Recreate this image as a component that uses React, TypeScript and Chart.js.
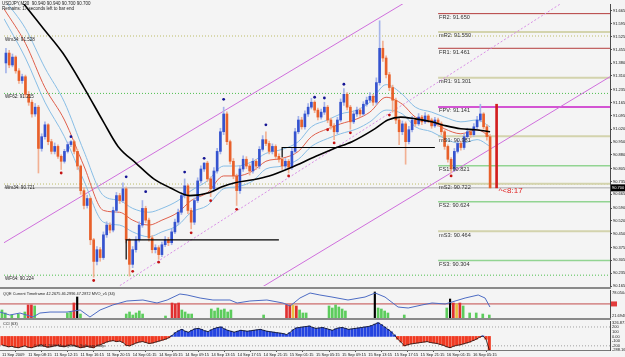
import React, { useEffect, useRef } from "react";
import { Chart, registerables } from "chart.js";
Chart.register(...registerables);

// ---------------- data ----------------
const mainTitle = "USDJPY,M30  90.940 90.940 90.700 90.700";
const remainText = "Remains: 17 seconds left to bar end";
const countdownText = "^<8:17";
const qqeTitle = "QQE Current Timeframe 42.2675 46.2996 47.2872 MVO_v5 (34)";
const cciTitle = "CCI (63)";
const copyrightText = "\u00a9 2001-2009 MetaQuotes Software Corp.";

const priceTicks = [91.665, 91.595, 91.525, 91.455, 91.38, 91.31, 91.235, 91.165, 91.095, 91.02, 90.95, 90.88, 90.805, 90.735, 90.665, 90.59, 90.52, 90.45, 90.375, 90.305, 90.235, 90.165];
const currentPrice = 90.7;

const timeTickIdx = [0, 8, 16, 24, 32, 40, 48, 56, 64, 72, 80, 88, 96, 104, 112, 120, 128, 136, 144];
const timeLabels = ["11 Sep 2009", "11 Sep 08:15", "11 Sep 12:15", "11 Sep 16:15", "11 Sep 20:15", "14 Sep 01:15", "14 Sep 05:15", "14 Sep 09:15", "14 Sep 13:15", "14 Sep 17:15", "14 Sep 21:15", "15 Sep 01:15", "15 Sep 05:15", "15 Sep 09:15", "15 Sep 13:15", "15 Sep 17:15", "15 Sep 21:15", "16 Sep 01:15", "16 Sep 05:15"];

const opens = [
  91.381, 91.435, 91.370, 91.413, 91.338, 91.285, 91.306, 91.210, 91.167, 91.103,
  91.140, 90.915, 90.979, 91.044, 90.952, 90.899, 90.926, 90.872, 90.845, 90.899,
  90.936, 90.952, 90.899, 90.819, 90.685, 90.604, 90.642, 90.417, 90.299, 90.363,
  90.320, 90.444, 90.497, 90.470, 90.577, 90.658, 90.631, 90.695, 90.417, 90.283,
  90.363, 90.417, 90.497, 90.588, 90.524, 90.427, 90.363, 90.374, 90.336, 90.390,
  90.417, 90.401, 90.460, 90.513, 90.567, 90.658, 90.711, 90.577, 90.513, 90.631,
  90.738, 90.803, 90.835, 90.749, 90.695, 90.792, 90.899, 91.006, 91.103, 90.952,
  90.845, 90.765, 90.685, 90.803, 90.856, 90.819, 90.792, 90.845, 90.819, 90.910,
  90.963, 90.942, 90.899, 90.926, 90.872, 90.856, 90.819, 90.845, 90.813, 90.899,
  91.006, 91.070, 91.033, 91.103, 91.140, 91.167, 91.124, 91.086, 91.113, 91.140,
  91.070, 91.038, 91.006, 91.070, 91.167, 91.210, 91.140, 91.060, 91.103, 91.124,
  91.103, 91.156, 91.178, 91.199, 91.167, 91.274, 91.461, 91.408, 91.317, 91.247,
  91.178, 91.070, 91.006, 91.049, 90.952, 91.017, 91.070, 91.049, 91.086, 91.060,
  91.092, 91.070, 91.038, 91.070, 91.049, 91.006, 90.926, 90.856, 90.803, 90.899,
  90.942, 90.920, 90.979, 91.006, 90.990, 91.033, 91.070, 91.103, 91.033, 90.979,
];
const highs = [
  91.461, 91.450, 91.430, 91.420, 91.350, 91.320, 91.315, 91.225, 91.180, 91.160,
  91.150, 90.995, 91.060, 91.050, 90.965, 90.945, 90.935, 90.880, 90.910, 90.950,
  90.958, 90.960, 90.910, 90.825, 90.700, 90.660, 90.650, 90.425, 90.380, 90.375,
  90.460, 90.515, 90.510, 90.595, 90.675, 90.670, 90.728, 90.705, 90.425, 90.380,
  90.435, 90.515, 90.631, 90.600, 90.535, 90.440, 90.390, 90.385, 90.405, 90.435,
  90.430, 90.475, 90.530, 90.585, 90.675, 90.749, 90.720, 90.590, 90.645, 90.755,
  90.820, 90.838, 90.845, 90.760, 90.810, 90.915, 91.025, 91.140, 91.115, 90.960,
  90.860, 90.775, 90.820, 90.875, 90.870, 90.830, 90.860, 90.855, 90.925, 90.985,
  91.006, 90.955, 90.940, 90.935, 90.885, 90.865, 90.860, 90.855, 90.915, 91.025,
  91.090, 91.085, 91.120, 91.160, 91.188, 91.175, 91.135, 91.130, 91.167, 91.150,
  91.080, 91.050, 91.085, 91.185, 91.242, 91.220, 91.150, 91.120, 91.140, 91.135,
  91.170, 91.195, 91.220, 91.210, 91.300, 91.611, 91.500, 91.420, 91.330, 91.260,
  91.190, 91.080, 91.065, 91.060, 91.035, 91.090, 91.085, 91.105, 91.095, 91.110,
  91.100, 91.080, 91.085, 91.080, 91.060, 91.015, 90.935, 90.865, 90.915, 90.960,
  90.955, 90.995, 91.025, 91.015, 91.050, 91.090, 91.156, 91.110, 91.045, 90.990,
];
const lows = [
  91.327, 91.355, 91.360, 91.325, 91.270, 91.270, 91.195, 91.150, 91.085, 91.090,
  90.781, 90.900, 90.965, 90.935, 90.885, 90.885, 90.860, 90.800, 90.835, 90.890,
  90.925, 90.885, 90.800, 90.665, 90.585, 90.590, 90.390, 90.213, 90.280, 90.300,
  90.310, 90.430, 90.455, 90.460, 90.565, 90.615, 90.620, 90.400, 90.219, 90.265,
  90.350, 90.405, 90.485, 90.510, 90.410, 90.345, 90.345, 90.310, 90.325, 90.380,
  90.385, 90.390, 90.450, 90.500, 90.555, 90.645, 90.560, 90.476, 90.500, 90.620,
  90.725, 90.790, 90.735, 90.652, 90.680, 90.780, 90.885, 90.990, 90.935, 90.830,
  90.750, 90.604, 90.670, 90.790, 90.805, 90.770, 90.780, 90.800, 90.805, 90.900,
  90.930, 90.885, 90.885, 90.860, 90.840, 90.800, 90.805, 90.781, 90.800, 90.890,
  90.995, 91.020, 91.020, 91.090, 91.130, 91.110, 91.070, 91.075, 91.100, 91.055,
  91.020, 90.963, 90.995, 91.060, 91.150, 91.125, 91.020, 91.050, 91.090, 91.090,
  91.095, 91.145, 91.165, 91.150, 91.155, 91.260, 91.390, 91.300, 91.230, 91.113,
  91.050, 90.936, 90.990, 90.829, 90.940, 91.005, 91.035, 91.040, 91.045, 91.050,
  91.055, 91.025, 91.030, 91.035, 90.990, 90.910, 90.840, 90.781, 90.790, 90.890,
  90.905, 90.910, 90.970, 90.975, 90.980, 91.020, 91.060, 91.020, 90.960, 90.700,
];
const closes = [
  91.435, 91.370, 91.413, 91.338, 91.285, 91.306, 91.210, 91.167, 91.103, 91.140,
  90.915, 90.979, 91.044, 90.952, 90.899, 90.926, 90.872, 90.845, 90.899, 90.936,
  90.952, 90.899, 90.819, 90.685, 90.604, 90.642, 90.417, 90.299, 90.363, 90.320,
  90.444, 90.497, 90.470, 90.577, 90.658, 90.631, 90.695, 90.417, 90.283, 90.363,
  90.417, 90.497, 90.588, 90.524, 90.427, 90.363, 90.374, 90.336, 90.390, 90.417,
  90.401, 90.460, 90.513, 90.567, 90.658, 90.711, 90.577, 90.513, 90.631, 90.738,
  90.803, 90.835, 90.749, 90.695, 90.792, 90.899, 91.006, 91.103, 90.952, 90.845,
  90.765, 90.685, 90.803, 90.856, 90.819, 90.792, 90.845, 90.819, 90.910, 90.963,
  90.942, 90.899, 90.926, 90.872, 90.856, 90.819, 90.845, 90.813, 90.899, 91.006,
  91.070, 91.033, 91.103, 91.140, 91.167, 91.124, 91.086, 91.113, 91.140, 91.070,
  91.038, 91.006, 91.070, 91.167, 91.210, 91.140, 91.060, 91.103, 91.124, 91.103,
  91.156, 91.178, 91.199, 91.167, 91.274, 91.461, 91.408, 91.317, 91.247, 91.178,
  91.070, 91.006, 91.049, 90.952, 91.017, 91.070, 91.049, 91.086, 91.060, 91.092,
  91.070, 91.038, 91.070, 91.049, 91.006, 90.926, 90.856, 90.803, 90.899, 90.942,
  90.920, 90.979, 91.006, 90.990, 91.033, 91.070, 91.103, 91.033, 90.979, 90.700,
];
// range bar of the running bar
const lastBarIdx = 151;
const lastBarHigh = 91.156;
const lastBarLow = 90.7;

// moving-average envelope (sampled)
const maIdx = [-0.6, 6, 12, 18, 24, 30, 35, 39, 44, 48, 53, 57, 62, 67, 71, 76, 80, 85, 90, 94, 99, 103, 108, 112, 117, 122, 126, 131, 135, 140, 145, 149];
const maUpper = [91.729, 91.569, 91.354, 91.167, 90.899, 90.658, 90.631, 90.588, 90.567, 90.588, 90.631, 90.685, 90.738, 90.819, 90.819, 90.845, 90.888, 90.910, 90.952, 91.033, 91.070, 91.103, 91.124, 91.167, 91.263, 91.210, 91.140, 91.113, 91.086, 91.060, 91.070, 91.033];
const maMid = [91.676, 91.488, 91.247, 91.070, 90.819, 90.577, 90.567, 90.524, 90.497, 90.524, 90.567, 90.631, 90.674, 90.765, 90.765, 90.792, 90.845, 90.861, 90.899, 90.979, 91.022, 91.049, 91.076, 91.113, 91.194, 91.156, 91.086, 91.060, 91.022, 90.995, 91.017, 90.979];
const maLower = [91.622, 91.408, 91.167, 90.979, 90.738, 90.513, 90.497, 90.460, 90.433, 90.460, 90.497, 90.567, 90.604, 90.695, 90.706, 90.738, 90.803, 90.819, 90.856, 90.926, 90.969, 90.995, 91.022, 91.060, 91.124, 91.103, 91.033, 91.006, 90.969, 90.942, 90.963, 90.926];

// slow black moving average (sampled)
const slowIdx = [2, 5.5, 11.5, 17.5, 24, 30, 34.5, 40, 45.5, 50.5, 56.5, 62.5, 66.5, 70.5, 76, 81, 88, 94, 101, 106.5, 113.5, 117.5, 121.5, 126, 131, 135.5, 140, 144.5, 149];
const slowMa = [91.783, 91.703, 91.569, 91.435, 91.247, 91.060, 90.926, 90.835, 90.749, 90.701, 90.658, 90.674, 90.706, 90.728, 90.744, 90.765, 90.813, 90.861, 90.915, 90.952, 91.022, 91.070, 91.086, 91.076, 91.060, 91.038, 91.022, 91.017, 91.006];

// trend channel (bar index, price)
const channelUpper = [[-0.6, 90.401], [130, 91.787]];
const channelLower = [[75, 90.118], [185.9, 91.306]];
const channelDotted = [[27.8, 90.085], [170.6, 91.7025]];

// horizontal black support/resistance segments
const segStartIdx = [37, 85];
const segEndIdx = [84, 132];
const segLevel = [90.417, 90.92];
const segTickEnd = [90.31, 90.867];

// fractals
const fractalUpIdx = [20, 37, 43, 55, 61, 67, 80, 95, 98, 104];
const fractalUpVal = [90.979, 90.76, 90.679, 90.786, 90.861, 91.183, 91.044, 91.194, 91.19, 91.265];
const fractalDnIdx = [17, 27, 39, 47, 57, 63, 71, 87, 99, 101, 106, 118, 137];
const fractalDnVal = [90.781, 90.195, 90.245, 90.295, 90.455, 90.63, 90.583, 90.765, 91.017, 90.945, 91.0, 91.097, 90.765];

// daily pivots
const pivotStart = 133;
const pivotNames = ["FR2", "mR2", "FR1", "mR1", "FPV", "mS1", "FS1", "mS2", "FS2", "mS3", "FS3"];
const pivotValues = [91.65, 91.55, 91.461, 91.301, 91.141, 90.981, 90.821, 90.722, 90.624, 90.464, 90.304];
// weekly levels
const weeklyNames = ["Wm34", "WF62", "Wm34", "WF64"];
const weeklyValues = [91.528, 91.215, 90.721, 90.224];

// QQE panel
const qqeMin = 21.6948;
const qqeMax = 78.0504;
const qqeLevel = 50;
const qqeLineIdx = [-0.6, 2.4, 5.5, 9.5, 11.6, 14.7, 19.9, 23.9, 26.9, 30, 33.9, 38.2, 43.1, 47.4, 50.5, 54.4, 56.6, 60.6, 64.5, 69.7, 71.9, 75.8, 81, 85.9, 88.1, 91.1, 94.2, 97.2, 100.9, 105.8, 111, 114.1, 117.1, 121.1, 124.2, 128.4, 131.5, 135.5, 137.6, 141.6, 145.6, 147.7, 149.2];
const qqeLineVal = [33.7, 27.7, 31.7, 23.7, 31.7, 33.7, 33.7, 37.8, 23.7, 37.8, 47.9, 55.9, 57.9, 51.9, 57.9, 70.0, 68.0, 61.9, 57.9, 57.9, 51.9, 55.9, 57.9, 51.9, 45.8, 61.9, 72.0, 68.0, 63.9, 57.9, 63.9, 72.0, 63.9, 43.8, 41.8, 47.9, 51.9, 49.9, 53.9, 61.9, 68.0, 61.9, 43.8];
const qqeGreenIdx = [0, 1, 3, 5, 7, 10, 20, 21, 24, 38, 39, 40, 41, 42, 43, 50, 55, 56, 57, 58, 64, 65, 66, 67, 68, 69, 70, 80, 91, 92, 93, 100, 101, 102, 103, 104, 105, 115, 116, 117, 118, 123, 136, 141, 143, 145, 147, 149];
const qqeGreenVal = [37.8, 31.8, 27.7, 29.7, 33.8, 45.9, 31.8, 33.8, 29.7, 29.7, 33.8, 27.7, 31.8, 35.8, 29.7, 25.7, 37.8, 33.8, 29.7, 29.7, 39.8, 35.8, 41.8, 37.8, 39.8, 33.8, 37.8, 27.7, 37.8, 31.8, 31.8, 45.9, 41.8, 47.9, 43.8, 39.8, 35.8, 41.8, 39.8, 35.8, 31.8, 27.7, 41.8, 45.9, 31.8, 31.8, 29.7, 27.7];
const qqeRedIdx = [8, 9, 22, 52, 53, 54, 87, 88, 90, 138, 140];
const qqeRedVal = [47.9, 47.9, 51.9, 51.9, 49.9, 51.9, 47.9, 47.9, 45.9, 51.9, 51.9];
const qqeYellowIdx = [89, 139];
const qqeYellowVal = [47.9, 49.9];
const qqeBlackIdx = [23, 114, 137];
const qqeBlackVal = [64.0, 74.0, 59.9];

// CCI panel
const cciMin = -288.161;
const cciMax = 326.871;
const cciAxisVals = [326.871, 200, 100, 0, -100, -200, -288.161];
const cciAxisText = ["326.871", "200", "100", "0.00", "-100", "-200", "-288.161"];
const cciDotLevels = [200, -200];
const cci = [
  -180, -200, -220, -210, -230, -240, -220, -200, -230, -240, -220,
  -200, -180, -210, -230, -220, -200, -190, -210, -220, -200,
  -180, -190, -220, -240, -230, -210, -230, -240, -200, -180,
  -150, -120, -100, -90, -110, -100, -130, -190, -200, -170,
  -140, -120, -110, -130, -150, -140, -120, -100, -80, -60,
  -30, 20, 80, 120, 150, 110, 90, 130, 160, 170,
  150, 120, 100, 140, 170, 190, 200, 160, 130, 110,
  90, 110, 130, 120, 110, 120, 130, 140, 150, 130,
  110, 100, 90, 80, 70, 60, 40, 80, 140, 180,
  190, 200, 210, 220, 190, 170, 180, 190, 170, 150,
  130, 160, 180, 190, 170, 150, 160, 170, 180, 190,
  200, 210, 230, 260, 290, 250, 200, 150, 100, 30,
  -60, -120, -200, -180, -160, -150, -140, -130, -120, -110,
  -130, -140, -150, -170, -190, -220, -240, -210, -190, -180,
  -160, -140, -120, -90, -60, -20, 10, -60, -290,
];

// ---------------- layout constants ----------------
const X_MIN = -0.6;
const X_MAX = 185.9;
const PRICE_MIN = 90.165;
const PRICE_MAX = 91.7025;
const FONT = '"Liberation Sans", Arial, sans-serif';
const BG = "#f4f4f4";

const pt = (x: number, y: number) => ({ x, y });
const lineDs = (data: any[], color: string, width: number, order: number, extra: any = {}) => ({
  type: "line",
  data,
  borderColor: color,
  borderWidth: width,
  pointRadius: 0,
  fill: false,
  order,
  ...extra,
});

const rightAxis = (min: number, max: number, extra: any = {}) => ({
  type: "linear",
  position: "right",
  min,
  max,
  afterFit: (s: any) => {
    s.width = 15;
    s.paddingTop = 0;
    s.paddingBottom = 0;
  },
  ticks: { display: false },
  grid: { display: false },
  border: { color: "#4a4a4a" },
  ...extra,
});

const hiddenX = { type: "linear", min: X_MIN, max: X_MAX, display: false, offset: false };

const bgPlugin = {
  id: "bg",
  beforeDraw(chart: any) {
    const { ctx, width, height } = chart;
    ctx.save();
    ctx.fillStyle = BG;
    ctx.fillRect(0, 0, width, height);
    ctx.restore();
  },
};

function mainDatasets() {
  const ds: any[] = [];
  weeklyValues.forEach((v, k) => {
    const isF = weeklyNames[k].startsWith("WF");
    ds.push(lineDs([pt(X_MIN, v), pt(X_MAX, v)], isF ? "#4fbf4f" : "#bcbc68", 1, 30, { borderDash: [1, 2] }));
  });
  ds.push(lineDs([pt(X_MIN, currentPrice), pt(X_MAX, currentPrice)], "#aaaaaa", 1, 29));
  pivotValues.forEach((v, k) => {
    const n = pivotNames[k];
    let c = "#d3d3ad";
    let w = 2;
    if (n.startsWith("FR")) { c = "#b43c3c"; w = 1; }
    else if (n.startsWith("FS")) { c = "#92d492"; w = 1.5; }
    else if (n === "FPV") { c = "#c81fc8"; w = 1.5; }
    ds.push(lineDs([pt(pivotStart, v), pt(X_MAX, v)], c, w, 28));
  });
  ds.push(lineDs(channelUpper.map(([a, b]) => pt(a, b)), "#cf6fdc", 1, 27));
  ds.push(lineDs(channelLower.map(([a, b]) => pt(a, b)), "#cf6fdc", 1, 27));
  ds.push(lineDs(channelDotted.map(([a, b]) => pt(a, b)), "#d98fe6", 1, 27, { borderDash: [2, 2] }));
  ds.push(lineDs(maIdx.map((x, k) => pt(x, maUpper[k])), "#88bee6", 1, 20, { cubicInterpolationMode: "monotone" }));
  ds.push(lineDs(maIdx.map((x, k) => pt(x, maLower[k])), "#88bee6", 1, 20, { cubicInterpolationMode: "monotone" }));
  ds.push(lineDs(maIdx.map((x, k) => pt(x, maMid[k])), "#e0604c", 1, 19, { cubicInterpolationMode: "monotone" }));
  ds.push({
    type: "bar",
    data: closes.map((c, i) => ({ x: i, y: [lows[i], highs[i]] })),
    backgroundColor: closes.map((c, i) => (c >= opens[i] ? "#a4b3ea" : "#f2b093")),
    barThickness: 1,
    grouped: false,
    order: 15,
  });
  ds.push({
    type: "bar",
    data: closes.map((c, i) => ({ x: i, y: [opens[i], c] })),
    backgroundColor: closes.map((c, i) => (c >= opens[i] ? "#3553cf" : "#e8602a")),
    barThickness: 2,
    grouped: false,
    order: 14,
  });
  ds.push(lineDs(slowIdx.map((x, k) => pt(x, slowMa[k])), "#000000", 1.6, 10, { cubicInterpolationMode: "monotone" }));
  segLevel.forEach((v, k) => {
    ds.push(lineDs([pt(segStartIdx[k], segTickEnd[k]), pt(segStartIdx[k], v), pt(segEndIdx[k], v)], "#000000", 1.2, 9));
  });
  ds.push({
    type: "line",
    data: fractalUpIdx.map((x, k) => pt(x, fractalUpVal[k])),
    showLine: false,
    pointRadius: 1.4,
    pointBackgroundColor: "#141494",
    pointBorderWidth: 0,
    order: 5,
  });
  ds.push({
    type: "line",
    data: fractalDnIdx.map((x, k) => pt(x, fractalDnVal[k])),
    showLine: false,
    pointRadius: 1.4,
    pointBackgroundColor: "#c41414",
    pointBorderWidth: 0,
    order: 5,
  });
  ds.push({
    type: "bar",
    data: [{ x: lastBarIdx, y: [lastBarLow, lastBarHigh] }],
    backgroundColor: "#d21e1e",
    barThickness: 2,
    grouped: false,
    order: 2,
  });
  return ds;
}

const mainDecor = {
  id: "mainDecor",
  afterDatasetsDraw(chart: any) {
    const { ctx } = chart;
    const xs = chart.scales.x;
    const ys = chart.scales.y;
    ctx.save();
    ctx.fillStyle = "#222";
    ctx.textBaseline = "middle";
    ctx.font = `4.5px ${FONT}`;
    ctx.fillText(mainTitle, 2, 4);
    ctx.fillText(remainText, 2, 9);
    ctx.textBaseline = "top";
    ctx.font = `4.6px ${FONT}`;
    weeklyValues.forEach((v, k) => ctx.fillText(`${weeklyNames[k]}: ${v.toFixed(3)}`, 5, ys.getPixelForValue(v) + 1));
    ctx.font = `5.6px ${FONT}`;
    ctx.fillStyle = "#333";
    pivotValues.forEach((v, k) =>
      ctx.fillText(`${pivotNames[k]}: ${v.toFixed(3)}`, xs.getPixelForValue(pivotStart) + 1, ys.getPixelForValue(v) + 1)
    );
    ctx.fillStyle = "#e02424";
    ctx.font = `8px ${FONT}`;
    ctx.fillText(countdownText, xs.getPixelForValue(lastBarIdx) + 2, ys.getPixelForValue(currentPrice) - 1);
    ctx.restore();
  },
  afterDraw(chart: any) {
    const { ctx } = chart;
    const ys = chart.scales.y;
    const py = ys.getPixelForValue(currentPrice);
    ctx.save();
    ctx.fillStyle = "#000";
    ctx.fillRect(ys.left + 1, py - 3.5, 14, 7);
    ctx.fillStyle = "#fff";
    ctx.font = `4px ${FONT}`;
    ctx.textBaseline = "middle";
    ctx.fillText(currentPrice.toFixed(3), ys.left + 2, py);
    ctx.restore();
  },
};

const qqeDecor = {
  id: "qqeDecor",
  afterDraw(chart: any) {
    const { ctx, chartArea } = chart;
    const ys = chart.scales.y;
    ctx.save();
    ctx.fillStyle = "#222";
    ctx.font = `3.9px ${FONT}`;
    ctx.textBaseline = "middle";
    ctx.fillText(qqeTitle, 3, chartArea.top + 3.5);
    ctx.font = `4px ${FONT}`;
    ctx.fillText(qqeMax.toFixed(4), ys.left + 2, chartArea.top + 2.5);
    ctx.fillText(qqeMin.toFixed(4), ys.left + 2, chartArea.bottom - 2);
    ctx.fillStyle = "#e23b3b";
    ctx.fillRect(ys.left + 1, ys.getPixelForValue(qqeLevel) - 2.5, 6, 5);
    ctx.restore();
  },
};

const cciDecor = {
  id: "cciDecor",
  afterDraw(chart: any) {
    const { ctx, chartArea } = chart;
    const ys = chart.scales.y;
    ctx.save();
    ctx.fillStyle = "#222";
    ctx.font = `3.9px ${FONT}`;
    ctx.textBaseline = "middle";
    ctx.fillText(cciTitle, 3, chartArea.top + 3);
    ctx.fillText(copyrightText, 34, chartArea.bottom - 4);
    ctx.font = `4px ${FONT}`;
    cciAxisVals.forEach((v, k) => {
      let py = ys.getPixelForValue(v);
      py = Math.max(chartArea.top + 2, Math.min(chartArea.bottom, py));
      ctx.fillText(cciAxisText[k], ys.left + 2, py);
    });
    ctx.restore();
  },
};

export default function App() {
  const mainRef = useRef<HTMLCanvasElement>(null);
  const qqeRef = useRef<HTMLCanvasElement>(null);
  const cciRef = useRef<HTMLCanvasElement>(null);

  useEffect(() => {
    document.body.style.margin = "0";
    const common = {
      responsive: false,
      animation: false,
      devicePixelRatio: 1,
      events: [],
      plugins: { legend: { display: false }, tooltip: { enabled: false } },
    };
    const charts: Chart[] = [];

    charts.push(
      new Chart(mainRef.current as HTMLCanvasElement, {
        type: "bar",
        data: { datasets: mainDatasets() },
        options: {
          ...common,
          layout: { padding: { top: 0, bottom: 3, left: 0, right: 0 } },
          scales: {
            x: hiddenX,
            y: {
              type: "linear",
              position: "right",
              min: PRICE_MIN,
              max: PRICE_MAX,
              afterFit: (s: any) => {
                s.width = 15;
                s.paddingTop = 0;
                s.paddingBottom = 0;
              },
              afterBuildTicks: (s: any) => {
                s.ticks = priceTicks.map((v) => ({ value: v }));
              },
              ticks: {
                autoSkip: false,
                font: { size: 4, family: FONT },
                color: "#111",
                padding: 1,
                callback: (v: any) => Number(v).toFixed(3),
              },
              grid: { drawOnChartArea: false, tickLength: 2, color: "#555" },
              border: { color: "#4a4a4a" },
            },
          },
        } as any,
        plugins: [bgPlugin, mainDecor],
      } as any)
    );

    const qqeDs: any[] = [
      lineDs([pt(X_MIN, qqeLevel), pt(X_MAX, qqeLevel)], "#c24a4a", 1, 9),
      lineDs(qqeLineIdx.map((x, k) => pt(x, qqeLineVal[k])), "#4d6cc4", 1, 3),
      { type: "bar", data: qqeGreenIdx.map((x, k) => pt(x, qqeGreenVal[k])), backgroundColor: "#5ccc5c", barThickness: 2, grouped: false, order: 6 },
      { type: "bar", data: qqeRedIdx.map((x, k) => pt(x, qqeRedVal[k])), backgroundColor: "#e03030", barThickness: 2, grouped: false, order: 6 },
      { type: "bar", data: qqeYellowIdx.map((x, k) => pt(x, qqeYellowVal[k])), backgroundColor: "#e8c040", barThickness: 2, grouped: false, order: 6 },
      { type: "bar", data: qqeBlackIdx.map((x, k) => pt(x, qqeBlackVal[k])), backgroundColor: "#000000", barThickness: 1.5, grouped: false, order: 5 },
    ];
    charts.push(
      new Chart(qqeRef.current as HTMLCanvasElement, {
        type: "bar",
        data: { datasets: qqeDs },
        options: {
          ...common,
          layout: { padding: 0 },
          scales: { x: hiddenX, y: rightAxis(qqeMin, qqeMax) },
        } as any,
        plugins: [bgPlugin, qqeDecor],
      } as any)
    );

    const cciDs: any[] = [
      ...cciDotLevels.map((v) => lineDs([pt(X_MIN, v), pt(X_MAX, v)], "#a0a0a0", 1, 20, { borderDash: [1, 2] })),
      {
        type: "bar",
        data: cci.map((v, i) => pt(i, v)),
        backgroundColor: cci.map((v) => (v >= 0 ? "#2444e0" : "#f03a22")),
        barThickness: 2.4,
        grouped: false,
        order: 10,
      },
      lineDs(cci.map((v, i) => pt(i, v)), "#111111", 0.8, 5),
    ];
    charts.push(
      new Chart(cciRef.current as HTMLCanvasElement, {
        type: "bar",
        data: { datasets: cciDs },
        options: {
          ...common,
          layout: { padding: { top: 1, bottom: 0, left: 0, right: 0 } },
          scales: {
            x: {
              type: "linear",
              min: X_MIN,
              max: X_MAX,
              position: "bottom",
              offset: false,
              afterBuildTicks: (s: any) => {
                s.ticks = timeTickIdx.map((v) => ({ value: v }));
              },
              afterFit: (s: any) => {
                s.height = 7;
                s.paddingLeft = 0;
                s.paddingRight = 0;
              },
              ticks: {
                autoSkip: false,
                maxRotation: 0,
                minRotation: 0,
                align: "start",
                font: { size: 4, family: FONT },
                color: "#111",
                padding: 0,
                callback: (_v: any, k: number) => timeLabels[k],
              },
              grid: { drawOnChartArea: false, tickLength: 2, color: "#555" },
              border: { color: "#777" },
            },
            y: rightAxis(cciMin, cciMax),
          },
        } as any,
        plugins: [bgPlugin, cciDecor],
      } as any)
    );

    return () => charts.forEach((c) => c.destroy());
  }, []);

  return (
    <div style={{ position: "fixed", left: 0, top: 0, width: 625, height: 357, background: BG, overflow: "hidden" }}>
      <canvas ref={mainRef} width={625} height={290} style={{ position: "absolute", left: 0, top: 0, width: 625, height: 290 }} />
      <div style={{ position: "absolute", left: 0, top: 287, width: 611, height: 2, background: "#8a8a8a" }} />
      <canvas ref={qqeRef} width={625} height={28} style={{ position: "absolute", left: 0, top: 290, width: 625, height: 28 }} />
      <div style={{ position: "absolute", left: 0, top: 318, width: 611, height: 2, background: "#8a8a8a" }} />
      <canvas ref={cciRef} width={625} height={37} style={{ position: "absolute", left: 0, top: 320, width: 625, height: 37 }} />
    </div>
  );
}
